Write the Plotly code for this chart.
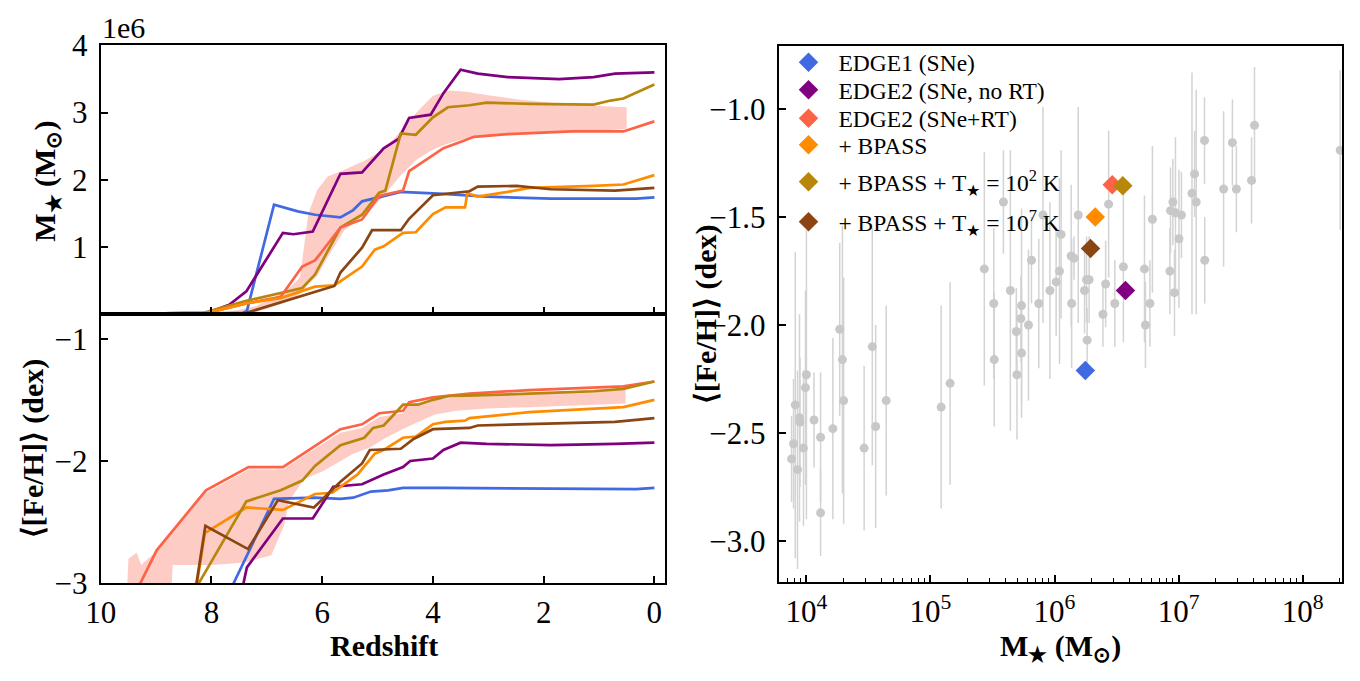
import plotly.graph_objects as go

W, H = 1360, 681
FONT = "Liberation Serif"

# ---------------- colours ----------------
C_BLUE = "#4169E1"
C_PURPLE = "#800080"
C_TOMATO = "#FF6347"
C_ORANGE = "#FF8C00"
C_GOLD = "#B8860B"
C_BROWN = "#8B4513"
C_BAND = "rgba(250,110,90,0.35)"

# ---------------- top-left panel: stellar mass (units of 1e6 Msun) vs redshift ----------------
blue_z_m = [10, 8.0, 7.45, 7.36, 6.87, 6.44, 6.13, 5.67, 5.44, 5.28, 4.97, 4.58, 3.81, 3.03, 1.87, 0.33, 0.0]
blue_m = [0, 0.005, 0.01, 0.05, 1.63, 1.53, 1.48, 1.44, 1.55, 1.68, 1.74, 1.82, 1.79, 1.75, 1.72, 1.72, 1.74]

purple_z_m = [10, 9, 8.07, 7.68, 7.37, 6.71, 6.52, 6.17, 5.67, 5.28, 4.89, 4.62, 4.43, 4.04, 3.81, 3.50, 3.19, 2.65, 1.72, 1.10, 0.71, 0.0]
purple_m = [0, 0.005, 0.02, 0.14, 0.34, 1.21, 1.19, 1.23, 2.09, 2.11, 2.47, 2.61, 2.92, 2.97, 3.29, 3.64, 3.58, 3.53, 3.50, 3.53, 3.58, 3.60]

tomato_z_m = [10, 9, 8.07, 7.37, 6.75, 6.36, 6.13, 5.67, 5.28, 4.97, 4.54, 4.43, 3.81, 3.42, 3.26, 2.65, 1.49, 0.56, 0.0]
tomato_m = [0, 0.005, 0.02, 0.16, 0.26, 0.71, 0.80, 1.29, 1.41, 1.76, 1.84, 2.13, 2.47, 2.59, 2.64, 2.68, 2.72, 2.72, 2.87]

orange_z_m = [10, 9, 8.07, 7.37, 6.75, 6.13, 5.78, 5.28, 5.05, 4.89, 4.54, 4.31, 4.00, 3.77, 3.42, 3.38, 3.19, 2.65, 2.26, 1.10, 0.56, 0.0]
orange_m = [0, 0.005, 0.02, 0.16, 0.24, 0.41, 0.43, 0.71, 0.96, 1.01, 1.21, 1.22, 1.49, 1.59, 1.59, 1.80, 1.75, 1.82, 1.88, 1.91, 1.93, 2.07]

gold_z_m = [10, 9, 8.14, 7.37, 6.36, 6.13, 5.67, 5.28, 4.97, 4.86, 4.58, 4.31, 4.00, 3.73, 3.34, 3.03, 2.26, 1.10, 0.79, 0.56, 0.0]
gold_m = [0, 0.005, 0.02, 0.20, 0.39, 0.59, 1.29, 1.48, 1.81, 1.84, 2.69, 2.67, 2.93, 3.08, 3.11, 3.15, 3.13, 3.12, 3.18, 3.21, 3.42]

brown_z_m = [10, 9, 7.37, 5.78, 5.67, 5.28, 5.10, 4.58, 4.43, 4.00, 3.34, 3.19, 2.49, 1.87, 0.71, 0.0]
brown_m = [0, 0.003, 0.02, 0.42, 0.62, 0.99, 1.25, 1.25, 1.42, 1.77, 1.83, 1.90, 1.91, 1.86, 1.84, 1.88]

band_z_m = [7.9, 7.2, 6.75, 6.55, 6.40, 6.33, 6.25, 6.09, 5.9, 5.6, 5.2, 4.9, 4.6, 4.3, 4.0, 3.7, 3.4, 3.0, 2.5, 2.0, 1.5, 1.0, 0.5]
band_m_hi = [0.0, 0.12, 0.30, 0.42, 0.55, 1.0, 1.5, 1.85, 2.05, 2.15, 2.3, 2.45, 2.7, 3.0, 3.25, 3.33, 3.31, 3.26, 3.2, 3.16, 3.12, 3.1, 3.08]
band_m_lo = [0.0, 0.03, 0.15, 0.22, 0.30, 0.36, 0.45, 0.57, 0.85, 1.25, 1.5, 1.75, 2.05, 2.3, 2.45, 2.55, 2.62, 2.66, 2.68, 2.7, 2.72, 2.73, 2.76]

# ---------------- bottom-left panel: <[Fe/H]> vs redshift ----------------
blue_z_f = [7.8, 7.60, 6.87, 6.13, 5.67, 5.44, 5.12, 4.81, 4.54, 3.81, 0.33, 0.0]
blue_f = [-3.2, -3.0, -2.31, -2.30, -2.31, -2.30, -2.25, -2.24, -2.22, -2.22, -2.23, -2.22]

purple_z_f = [7.47, 7.36, 6.71, 6.17, 5.80, 5.28, 4.89, 4.54, 4.41, 4.00, 3.81, 3.50, 3.03, 1.87, 0.71, 0.0]
purple_f = [-3.1, -2.87, -2.47, -2.47, -2.21, -2.19, -2.11, -2.05, -2.00, -1.98, -1.91, -1.85, -1.86, -1.87, -1.86, -1.85]

tomato_z_f = [9.45, 8.99, 8.10, 7.33, 6.71, 6.21, 6.13, 5.67, 5.28, 4.97, 4.54, 4.43, 4.00, 3.34, 2.26, 0.56, 0.0]
tomato_f = [-3.15, -2.73, -2.24, -2.05, -2.05, -1.90, -1.88, -1.74, -1.70, -1.61, -1.59, -1.52, -1.48, -1.45, -1.42, -1.39, -1.35]

gold_z_f = [8.40, 8.23, 7.37, 6.75, 6.36, 6.13, 5.67, 5.24, 5.08, 4.89, 4.54, 4.27, 4.00, 3.73, 2.26, 1.10, 0.56, 0.0]
gold_f = [-3.13, -3.0, -2.33, -2.24, -2.16, -2.04, -1.87, -1.81, -1.73, -1.71, -1.54, -1.54, -1.50, -1.47, -1.45, -1.43, -1.41, -1.35]

orange_z_f = [8.33, 8.12, 7.37, 6.71, 6.13, 5.82, 5.36, 5.05, 4.89, 4.54, 4.31, 4.00, 3.77, 3.42, 3.34, 2.26, 0.56, 0.0]
orange_f = [-3.2, -2.59, -2.38, -2.40, -2.27, -2.26, -2.11, -1.94, -1.91, -1.81, -1.80, -1.70, -1.68, -1.67, -1.65, -1.60, -1.56, -1.50]

brown_z_f = [8.34, 8.11, 7.34, 6.80, 6.15, 5.67, 5.28, 5.14, 4.58, 4.35, 4.00, 3.34, 3.19, 2.26, 0.71, 0.0]
brown_f = [-3.2, -2.53, -2.72, -2.32, -2.38, -2.17, -2.02, -1.91, -1.90, -1.82, -1.74, -1.73, -1.71, -1.70, -1.68, -1.65]

band_z_f_hi = [9.55, 9.50, 9.35, 9.27, 9.10, 8.99, 8.10, 7.33, 6.71, 6.21, 5.67, 5.28, 4.97, 4.54, 4.43, 4.00, 3.34, 2.26, 0.52]
band_f_hi = [-3.3, -2.80, -2.75, -2.85, -2.78, -2.74, -2.26, -2.07, -2.07, -1.92, -1.77, -1.73, -1.64, -1.61, -1.54, -1.50, -1.47, -1.44, -1.41]
band_z_f_lo = [9.55, 8.75, 8.70, 7.99, 7.40, 6.92, 6.69, 6.60, 6.33, 5.97, 5.73, 5.44, 5.14, 4.85, 4.55, 4.26, 3.96, 3.58, 3.03, 2.26, 0.52]
band_f_lo = [-3.3, -3.3, -2.85, -2.85, -2.83, -2.77, -2.53, -2.33, -2.15, -2.08, -2.02, -1.94, -1.89, -1.81, -1.74, -1.68, -1.62, -1.59, -1.57, -1.56, -1.53]

# ---------------- right panel: observed dwarfs (log10 Mstar, <[Fe/H]>, error) ----------------
obs_logm = [3.880, 3.896, 3.910, 3.928, 3.944, 3.948, 3.976, 3.992, 4.000, 4.061,
            4.114, 4.114, 4.213, 4.268, 4.290, 4.300, 4.465, 4.531, 4.558, 4.643,
            5.086, 5.158, 5.434, 5.510, 5.514, 5.588, 5.644, 5.692, 5.697, 5.729,
            5.734, 5.734, 5.790, 5.814, 5.873, 5.907, 5.963, 6.013, 6.040, 6.053,
            6.134, 6.157, 6.138, 6.191, 6.242, 6.258, 6.279, 6.263, 6.390, 6.412,
            6.436, 6.486, 6.555, 6.725, 6.733, 6.769, 6.789, 6.930, 6.935, 6.954,
            6.967, 6.975, 7.003, 7.023, 7.108, 7.129, 7.142, 7.209, 7.211, 7.363,
            7.434, 7.466, 7.588, 7.612, 8.303]
obs_feh = [-2.62, -2.55, -2.37, -2.67, -2.43, -2.45, -2.57, -2.29, -2.23, -2.44,
           -2.52, -2.87, -2.48, -2.02, -2.16, -2.35, -2.57, -2.10, -2.47, -2.35,
           -2.38, -2.27, -1.74, -1.90, -2.16, -1.43, -1.84, -2.03, -2.23, -1.97,
           -1.91, -2.13, -2.00, -1.70, -1.90, -1.49, -1.84, -1.80, -1.75, -1.58,
           -1.68, -1.69, -1.90, -1.49, -1.84, -1.79, -1.79, -2.07, -1.95, -1.81,
           -1.44, -1.90, -1.73, -1.74, -2.00, -1.90, -1.51, -1.75, -1.47, -1.43,
           -1.85, -1.48, -1.60, -1.49, -1.39, -1.30, -1.43, -1.145, -1.70, -1.37,
           -1.155, -1.37, -1.33, -1.075, -1.19]
obs_err = [0.20, 0.30, 0.71, 0.46, 0.48, 0.30, 0.36, 0.45, 0.67, 0.22,
           0.30, 0.20, 0.42, 0.40, 0.62, 0.57, 0.38, 0.55, 0.47, 0.44,
           0.47, 0.47, 0.54, 0.35, 0.31, 0.24, 0.65, 0.20, 0.30, 0.20,
           0.45, 0.30, 0.35, 0.20, 0.30, 0.50, 0.41, 0.25, 0.43, 0.39,
           0.33, 0.10, 0.30, 0.50, 0.20, 0.20, 0.20, 0.15, 0.15, 0.20,
           0.34, 0.20, 0.35, 0.34, 0.20, 0.20, 0.34, 0.20, 0.20, 0.20,
           0.20, 0.35, 0.32, 0.20, 0.56, 0.20, 0.52, 0.20, 0.20, 0.36,
           0.20, 0.20, 0.20, 0.27, 0.37]

model_names = ["EDGE1 (SNe)", "EDGE2 (SNe, no RT)", "EDGE2 (SNe+RT)", "+ BPASS",
               "+ BPASS + T<sub>\u2605</sub> = 10<sup>2</sup> K",
               "+ BPASS + T<sub>\u2605</sub> = 10<sup>7</sup> K"]
model_colors = [C_BLUE, C_PURPLE, C_TOMATO, C_ORANGE, C_GOLD, C_BROWN]
model_mass = [1.77e6, 3.73e6, 2.92e6, 2.13e6, 3.55e6, 1.95e6]
model_feh = [-2.21, -1.84, -1.35, -1.50, -1.355, -1.645]
legend_rows_px = [48, 77, 107, 135, 174, 216]   # vertical anchor of each legend row

# ---------------- ticks ----------------
z_ticks = [10, 8, 6, 4, 2, 0]
m_ticks = [1e6, 2e6, 3e6, 4e6]
m_ticktext = ["1", "2", "3", "4"]
f_ticks = [-1, -2, -3]
f_ticktext = ["\u22121", "\u22122", "\u22123"]
r_yticks = [-1.0, -1.5, -2.0, -2.5, -3.0]
r_yticktext = ["\u22121.0", "\u22121.5", "\u22122.0", "\u22122.5", "\u22123.0"]
r_xticks = [1e4, 1e5, 1e6, 1e7, 1e8]
r_xticktext = ["10<sup>4</sup>", "10<sup>5</sup>", "10<sup>6</sup>", "10<sup>7</sup>", "10<sup>8</sup>"]
minor_decades = [1e3, 1e4, 1e5, 1e6, 1e7, 1e8]
minor_mult = [2, 3, 4, 5, 6, 7, 8, 9]
minor_vals = [d * m for d in minor_decades for m in minor_mult]

fig = go.Figure()

LW = 2.7

# band top
fig.add_trace(go.Scatter(
    x=band_z_m + band_z_m[::-1],
    y=[v * 1e6 for v in band_m_hi] + [v * 1e6 for v in band_m_lo[::-1]],
    fill="toself", fillcolor=C_BAND, line=dict(width=0), mode="lines",
    hoverinfo="skip", showlegend=False, xaxis="x", yaxis="y"))

top_series = [(blue_z_m, blue_m, C_BLUE), (purple_z_m, purple_m, C_PURPLE),
              (gold_z_m, gold_m, C_GOLD), (tomato_z_m, tomato_m, C_TOMATO),
              (orange_z_m, orange_m, C_ORANGE), (brown_z_m, brown_m, C_BROWN)]
for zz, mm, col in top_series:
    fig.add_trace(go.Scatter(x=zz, y=[v * 1e6 for v in mm], mode="lines",
                             line=dict(color=col, width=LW), showlegend=False,
                             xaxis="x", yaxis="y"))

# band bottom
fig.add_trace(go.Scatter(
    x=band_z_f_hi + band_z_f_lo[::-1],
    y=band_f_hi + band_f_lo[::-1],
    fill="toself", fillcolor=C_BAND, line=dict(width=0), mode="lines",
    hoverinfo="skip", showlegend=False, xaxis="x2", yaxis="y2"))

bot_series = [(blue_z_f, blue_f, C_BLUE), (purple_z_f, purple_f, C_PURPLE),
              (tomato_z_f, tomato_f, C_TOMATO), (orange_z_f, orange_f, C_ORANGE),
              (gold_z_f, gold_f, C_GOLD), (brown_z_f, brown_f, C_BROWN)]
for zz, ff, col in bot_series:
    fig.add_trace(go.Scatter(x=zz, y=ff, mode="lines",
                             line=dict(color=col, width=LW), showlegend=False,
                             xaxis="x2", yaxis="y2"))

# right: observations
fig.add_trace(go.Scatter(
    x=[10 ** v for v in obs_logm], y=obs_feh, mode="markers",
    marker=dict(color="#C8C8C8", size=9),
    error_y=dict(type="data", array=obs_err, color="#D3D3D3", thickness=1.5, width=0),
    showlegend=False, xaxis="x3", yaxis="y3"))

LEG_FONT = dict(family=FONT, size=23.5, color="black")
legend_layouts = {}
for i, (name, col, mm, ff, ypx) in enumerate(zip(model_names, model_colors, model_mass,
                                                model_feh, legend_rows_px)):
    key = "legend" if i == 0 else "legend%d" % (i + 1)
    fig.add_trace(go.Scatter(
        x=[mm], y=[ff], mode="markers", name=name, legend=key,
        marker=dict(symbol="diamond", color=col, size=15, line=dict(width=0)),
        xaxis="x3", yaxis="y3"))
    legend_layouts[key] = dict(x=772 / W, y=1 - ypx / H, xanchor="left", yanchor="middle",
                               bgcolor="rgba(0,0,0,0)", borderwidth=0, font=LEG_FONT,
                               itemwidth=50)

TICKFONT = dict(family=FONT, size=31, color="black")
common = dict(showline=True, linecolor="black", linewidth=2, mirror=True,
              ticks="inside", ticklen=7, tickwidth=1.5, tickcolor="black",
              showgrid=False, zeroline=False, tickfont=TICKFONT)

XL = [86.7 / W, 657.7 / W]
XR = [772.3 / W, 1342 / W]
Y_TOP = [1 - 313.3 / H, 1 - 30 / H]
Y_BOT = [1 - 597 / H, 1 - 313.3 / H]
Y_R = [1 - 596 / H, 1 - 30.5 / H]

fig.update_layout(
    width=W, height=H,
    margin=dict(l=0, r=0, t=0, b=0),
    paper_bgcolor="white", plot_bgcolor="white",
    font=dict(family=FONT, color="black"),
    xaxis=dict(domain=XL, range=[10, -0.2], anchor="y", tickmode="array",
               tickvals=z_ticks, showticklabels=False, **common),
    yaxis=dict(domain=Y_TOP, range=[0, 4e6], anchor="x", tickmode="array",
               tickvals=m_ticks, ticktext=m_ticktext, ticklabelstandoff=5, **common),
    xaxis2=dict(domain=XL, range=[10, -0.2], anchor="y2", tickmode="array",
                tickvals=z_ticks, ticktext=[str(v) for v in z_ticks], **common),
    yaxis2=dict(domain=Y_BOT, range=[-3, -0.8], anchor="x2", tickmode="array",
                tickvals=f_ticks, ticktext=f_ticktext, ticklabelstandoff=5, **common),
    xaxis3=dict(domain=XR, type="log", range=[3.777, 8.319], anchor="y3",
                tickmode="array", tickvals=r_xticks, ticktext=r_xticktext,
                minor=dict(tickmode="array", tickvals=minor_vals, ticks="inside",
                           ticklen=4, tickwidth=1.2, tickcolor="black", showgrid=False),
                **common),
    yaxis3=dict(domain=Y_R, range=[-3.192, -0.707], anchor="x3", tickmode="array",
                tickvals=r_yticks, ticktext=r_yticktext, ticklabelstandoff=5, **common),
    **legend_layouts,
)

TITLEFONT = dict(family=FONT, size=30, color="black")
annots = [
    dict(text="<b>M<sub>\u2605</sub> (M<sub>\u2299</sub>)</b>", x=32 / W, y=1 - 173 / H, textangle=-90),
    dict(text="<b>\u27e8[Fe/H]\u27e9 (dex)</b>", x=18 / W, y=1 - 455 / H, textangle=-90),
    dict(text="<b>\u27e8[Fe/H]\u27e9 (dex)</b>", x=699 / W, y=1 - 313 / H, textangle=-90),
    dict(text="<b>Redshift</b>", x=373 / W, y=1 - 663 / H, textangle=0),
    dict(text="<b>M<sub>\u2605</sub> (M<sub>\u2299</sub>)</b>", x=1057 / W, y=1 - 665 / H, textangle=0),
]
for a in annots:
    fig.add_annotation(xref="paper", yref="paper", showarrow=False,
                       xanchor="center", yanchor="middle", font=TITLEFONT, **a)

fig.add_annotation(text="1e6", xref="paper", yref="paper", x=86 / W, y=1 - 31 / H,
                   xanchor="left", yanchor="bottom", showarrow=False,
                   font=dict(family=FONT, size=30, color="black"))

fig.write_html("out.html")
